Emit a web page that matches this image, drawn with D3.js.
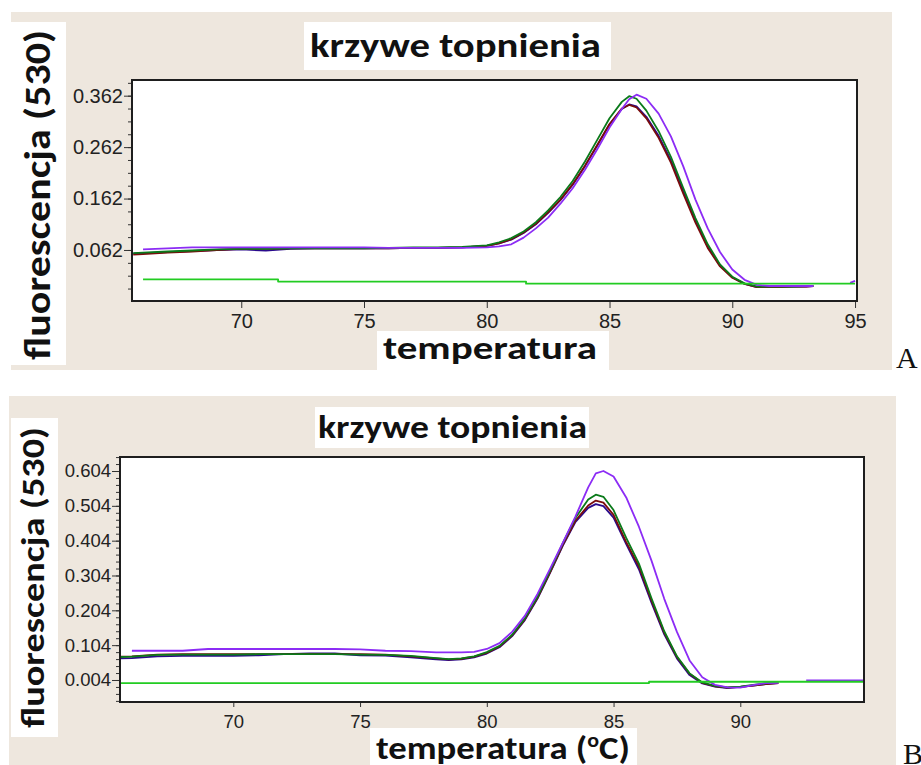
<!DOCTYPE html>
<html>
<head>
<meta charset="utf-8">
<script src="https://cdn.jsdelivr.net/npm/d3@7"></script>
<style>
  html, body { margin: 0; padding: 0; background: #ffffff; }
  svg { display: block; }
</style>
</head>
<body>
<svg id="chart" width="921" height="765"></svg>
<script>
// ---- Panel A: melting curves, fluorescence (530) vs temperature ----
const tempsA = [65.6, 66, 67, 68, 69, 70, 71, 72, 73, 74, 75, 76, 77, 78, 79, 80,
  80.5, 81, 81.5, 82, 82.5, 83, 83.5, 84, 84.5, 85, 85.5,
  85.8, 86.1,
  86.5, 87, 87.5, 88, 88.5, 89, 89.5, 90, 90.5, 91, 91.5, 92, 92.5, 93,
  93.3, 94, 94.8, 95];
const redA = [0.053, 0.054, 0.057, 0.059, 0.062, 0.064, 0.064, 0.065, 0.065, 0.065, 0.065, 0.065, 0.066, 0.066, 0.067, 0.070,
  0.075, 0.083, 0.096, 0.113, 0.135, 0.160, 0.190, 0.226, 0.266, 0.307, 0.337,
  0.344, 0.339,
  0.318, 0.280, 0.232, 0.172, 0.115, 0.066, 0.030, 0.008, -0.004, -0.010, -0.010, -0.010, -0.009, -0.009,
  -0.008, null, null, null];
const navyA = [0.055, 0.056, 0.058, 0.060, 0.062, 0.063, 0.061, 0.064, 0.065, 0.065, 0.065, 0.065, 0.066, 0.066, 0.067, 0.070,
  0.075, 0.082, 0.095, 0.112, 0.134, 0.159, 0.189, 0.225, 0.265, 0.306, 0.336,
  0.345, 0.341,
  0.321, 0.284, 0.236, 0.177, 0.119, 0.069, 0.032, 0.009, -0.004, -0.010, -0.010, -0.009, -0.009, -0.009,
  -0.008, null, null, null];
const greenA = [0.056, 0.057, 0.059, 0.061, 0.063, 0.064, 0.064, 0.065, 0.065, 0.065, 0.065, 0.066, 0.067, 0.067, 0.068, 0.071,
  0.077, 0.085, 0.098, 0.116, 0.139, 0.165, 0.196, 0.234, 0.276, 0.318, 0.350,
  0.361, 0.356,
  0.333, 0.293, 0.243, 0.183, 0.124, 0.073, 0.034, 0.010, -0.003, -0.009, -0.009, -0.009, -0.009, -0.008,
  -0.008, null, null, null];
const purpleA = [null, 0.063, 0.065, 0.067, 0.067, 0.067, 0.067, 0.067, 0.067, 0.067, 0.067, 0.066, 0.066, 0.066, 0.066, 0.067,
  0.069, 0.073, 0.086, 0.104, 0.125, 0.152, 0.182, 0.218, 0.258, 0.300, 0.336,
  0.355, 0.364,
  0.356, 0.327, 0.283, 0.225, 0.160, 0.104, 0.058, 0.024, 0.004, -0.006, -0.008, -0.008, -0.008, -0.008,
  -0.008, null, -0.002, 0.002];
// negative control baseline
const ctrlTempsA = [66.0, 71.5, 71.5, 81.6, 81.6, 95.0];
const ctrlA = [0.005, 0.005, 0.0005, 0.0005, -0.0035, -0.0035];
const yTicksA = [0.062, 0.162, 0.262, 0.362];
const xTicksA = [70, 75, 80, 85, 90, 95];

// ---- Panel B ----
const tempsB = [65.5, 66, 67, 68, 69, 70, 71, 72, 73, 74, 75, 76, 77, 78,
  78.5, 79, 79.5, 80, 80.5, 81, 81.5, 82, 82.5, 83, 83.5, 84,
  84.3, 84.6,
  85, 85.5, 86, 86.5, 87, 87.5, 88, 88.5, 89, 89.5, 90, 90.5, 91, 91.5,
  92, 92.6, 93, 94, 94.9];
const redB = [0.071, 0.072, 0.077, 0.078, 0.078, 0.078, 0.078, 0.078, 0.079, 0.078, 0.078, 0.077, 0.072, 0.066,
  0.063, 0.065, 0.071, 0.082, 0.100, 0.132, 0.178, 0.240, 0.314, 0.392, 0.462, 0.505,
  0.519, 0.513,
  0.478, 0.400, 0.330, 0.232, 0.140, 0.070, 0.022, -0.004, -0.014, -0.018, -0.016, -0.012, -0.008, -0.005,
  null, null, null, null, null];
const navyB = [0.066, 0.067, 0.072, 0.073, 0.073, 0.073, 0.075, 0.078, 0.080, 0.080, 0.075, 0.074, 0.069, 0.063,
  0.061, 0.063, 0.069, 0.080, 0.098, 0.130, 0.176, 0.238, 0.312, 0.390, 0.458, 0.498,
  0.509, 0.503,
  0.470, 0.394, 0.322, 0.225, 0.135, 0.066, 0.018, -0.006, -0.015, -0.019, -0.016, -0.012, -0.008, -0.005,
  null, null, null, null, null];
const greenB = [0.070, 0.071, 0.076, 0.077, 0.077, 0.077, 0.078, 0.078, 0.078, 0.078, 0.077, 0.076, 0.073, 0.067,
  0.064, 0.066, 0.072, 0.084, 0.102, 0.134, 0.181, 0.243, 0.318, 0.397, 0.470, 0.522,
  0.536, 0.530,
  0.492, 0.412, 0.338, 0.238, 0.144, 0.072, 0.023, -0.003, -0.013, -0.017, -0.015, -0.010, -0.006, -0.002,
  null, null, null, null, null];
const purpleB = [null, 0.088, 0.088, 0.088, 0.093, 0.093, 0.093, 0.093, 0.093, 0.093, 0.092, 0.088, 0.087, 0.083,
  0.083, 0.083, 0.085, 0.093, 0.110, 0.142, 0.188, 0.251, 0.324, 0.398, 0.474, 0.557,
  0.597, 0.604,
  0.588, 0.528, 0.444, 0.346, 0.237, 0.142, 0.060, 0.012, -0.010, -0.017, -0.018, -0.011, -0.005, -0.004,
  null, 0.003, 0.003, 0.003, 0.003];
const ctrlTempsB = [65.5, 86.4, 86.4, 94.9];
const ctrlB = [-0.005, -0.005, -0.001, -0.001];
const yTicksB = [0.004, 0.104, 0.204, 0.304, 0.404, 0.504, 0.604];
const xTicksB = [70, 75, 80, 85, 90];

const titleText = "krzywe topnienia";
const yLabelText = "fluorescencja (530)";

// ---- drawing ----
const svg = d3.select("#chart");
const LABEL_FONT = "Carlito, Lato, 'Open Sans', sans-serif";
const TICK_FONT = "'Liberation Sans', Arial, sans-serif";

const sampleColors = { navy: "#2a0a8c", red: "#7a0c0c", green: "#0a7a1a", purple: "#8c2cf5" };
const ctrlColor = "#22cc22";

// stretch a text element horizontally so that it spans `target` px
function fit(sel, x, y, target, rot) {
  const w = sel.node().getBBox().width;
  const s = target / w;
  sel.attr("transform", `translate(${x},${y}) rotate(${rot}) scale(${s},1)`);
}

function drawPanel(p) {
  const g = svg.append("g");
  g.append("rect").attr("x", p.bg[0]).attr("y", p.bg[1]).attr("width", p.bg[2]).attr("height", p.bg[3])
    .attr("fill", "#eee7de");

  // white label plates
  [p.yBox, p.titleBox, p.xBox].forEach(b => {
    g.append("rect").attr("x", b[0]).attr("y", b[1]).attr("width", b[2]).attr("height", b[3]).attr("fill", "#ffffff");
  });

  const x = d3.scaleLinear().domain(p.xDomain).range([p.plot[0], p.plot[1]]);
  const y = d3.scaleLinear().domain(p.yDomain).range([p.plot[3], p.plot[2]]);

  g.append("rect").attr("x", p.plot[0]).attr("y", p.plot[2])
    .attr("width", p.plot[1] - p.plot[0]).attr("height", p.plot[3] - p.plot[2])
    .attr("fill", "#ffffff");

  const clipId = "clip" + p.name;
  svg.append("clipPath").attr("id", clipId).append("rect")
    .attr("x", p.plot[0]).attr("y", p.plot[2])
    .attr("width", p.plot[1] - p.plot[0]).attr("height", p.plot[3] - p.plot[2]);

  const line = d3.line()
    .defined(d => d[1] != null)
    .x(d => x(d[0])).y(d => y(d[1]));

  const lines = g.append("g").attr("clip-path", `url(#${clipId})`)
    .attr("fill", "none").attr("stroke-width", 1.8).attr("stroke-linejoin", "round");
  p.series.forEach(s => {
    const pts = s.temps.map((t, i) => [t, s.values[i]]);
    lines.append("path").attr("d", line(pts)).attr("stroke", s.color);
  });

  // minor y ticks
  const minor = d3.range(p.yTicks[0] - p.minorStep * 20, p.yDomain[1], p.minorStep)
    .filter(v => v > p.yDomain[0] && v < p.yDomain[1]);
  g.append("g").attr("transform", `translate(${p.plot[0]},0)`)
    .call(d3.axisLeft(y).tickValues(minor).tickSize(4).tickFormat(""))
    .call(a => a.select(".domain").remove())
    .selectAll("line").attr("stroke", "#333");

  // major y ticks
  const ya = g.append("g").attr("transform", `translate(${p.plot[0]},0)`)
    .call(d3.axisLeft(y).tickValues(p.yTicks).tickSize(8).tickPadding(1).tickFormat(d3.format(".3f")));
  ya.select(".domain").remove();
  ya.selectAll("line").attr("stroke", "#333");
  ya.selectAll("text").attr("font-family", TICK_FONT).attr("font-size", p.tickFont).attr("fill", "#222");

  // x ticks
  const xa = g.append("g").attr("transform", `translate(0,${p.plot[3]})`)
    .call(d3.axisBottom(x).tickValues(p.xTicks).tickSize(p.xTickLen).tickPadding(p.xPad).tickFormat(d3.format("d")));
  xa.select(".domain").remove();
  xa.selectAll("line").attr("stroke", "#333");
  xa.selectAll("text").attr("font-family", TICK_FONT).attr("font-size", p.tickFont).attr("fill", "#222");

  // frame
  g.append("rect").attr("x", p.plot[0]).attr("y", p.plot[2])
    .attr("width", p.plot[1] - p.plot[0]).attr("height", p.plot[3] - p.plot[2])
    .attr("fill", "none").attr("stroke", "#1e1e1e").attr("stroke-width", 2);

  // title
  const t = g.append("text").attr("font-family", LABEL_FONT).attr("font-weight", 700)
    .attr("font-size", p.titleSize).attr("fill", "#111").text(titleText);
  fit(t, p.titlePos[0], p.titlePos[1], p.titlePos[2], 0);

  // y label
  const yl = g.append("text").attr("font-family", LABEL_FONT).attr("font-weight", 700)
    .attr("font-size", p.yLabSize).attr("fill", "#111").attr("text-anchor", "middle").text(yLabelText);
  fit(yl, p.yLabPos[0], p.yLabPos[1], p.yLabPos[2], -90);

  // x label
  const xl = g.append("text").attr("font-family", LABEL_FONT).attr("font-weight", 700)
    .attr("font-size", p.xLabSize).attr("fill", "#111");
  if (p.unit) {
    xl.append("tspan").text("temperatura (");
    xl.append("tspan").attr("font-size", p.xLabSize * 0.6).attr("dy", -p.xLabSize * 0.38).text("o");
    xl.append("tspan").attr("dy", p.xLabSize * 0.38).text("C)");
  } else {
    xl.text("temperatura");
  }
  fit(xl, p.xLabPos[0], p.xLabPos[1], p.xLabPos[2], 0);

  // panel letter
  svg.append("text").attr("x", p.letterPos[0]).attr("y", p.letterPos[1])
    .attr("font-family", "'Liberation Serif', 'Times New Roman', serif").attr("font-size", 30)
    .attr("fill", "#111").text(p.name);
}

drawPanel({
  name: "A",
  bg: [11, 12, 881, 358],
  yBox: [11, 22, 55, 343], titleBox: [304, 22, 307, 48], xBox: [377, 331, 232, 39],
  plot: [132, 857, 80, 301],
  xDomain: [65.55, 95.08], yDomain: [-0.0372, 0.3925],
  yTicks: yTicksA, xTicks: xTicksA, minorStep: 0.025,
  tickFont: 20, xTickLen: 7, xPad: 6,
  titleSize: 34, titlePos: [310, 57, 291],
  yLabSize: 36, yLabPos: [50, 195, 330],
  xLabSize: 33, xLabPos: [383, 358.5, 214],
  unit: false,
  letterPos: [896, 368],
  series: [
    { temps: tempsA, values: navyA, color: sampleColors.navy },
    { temps: tempsA, values: redA, color: sampleColors.red },
    { temps: tempsA, values: greenA, color: sampleColors.green },
    { temps: tempsA, values: purpleA, color: sampleColors.purple },
    { temps: ctrlTempsA, values: ctrlA, color: ctrlColor }
  ]
});

drawPanel({
  name: "B",
  bg: [9, 396, 887, 369],
  yBox: [11, 418, 47, 319], titleBox: [315, 407, 274, 41], xBox: [370, 728, 267, 37],
  plot: [120, 864, 457, 702],
  xDomain: [65.53, 94.88], yDomain: [-0.0592, 0.6442],
  yTicks: yTicksB, xTicks: xTicksB, minorStep: 0.02,
  tickFont: 18.5, xTickLen: 5, xPad: 8,
  titleSize: 32, titlePos: [318, 438.3, 269],
  yLabSize: 33, yLabPos: [43.5, 577.5, 301],
  xLabSize: 32, xLabPos: [376, 759, 254],
  unit: true,
  letterPos: [903, 764],
  series: [
    { temps: tempsB, values: navyB, color: sampleColors.navy },
    { temps: tempsB, values: redB, color: sampleColors.red },
    { temps: tempsB, values: greenB, color: sampleColors.green },
    { temps: tempsB, values: purpleB, color: sampleColors.purple },
    { temps: ctrlTempsB, values: ctrlB, color: ctrlColor }
  ]
});
</script>
</body>
</html>
